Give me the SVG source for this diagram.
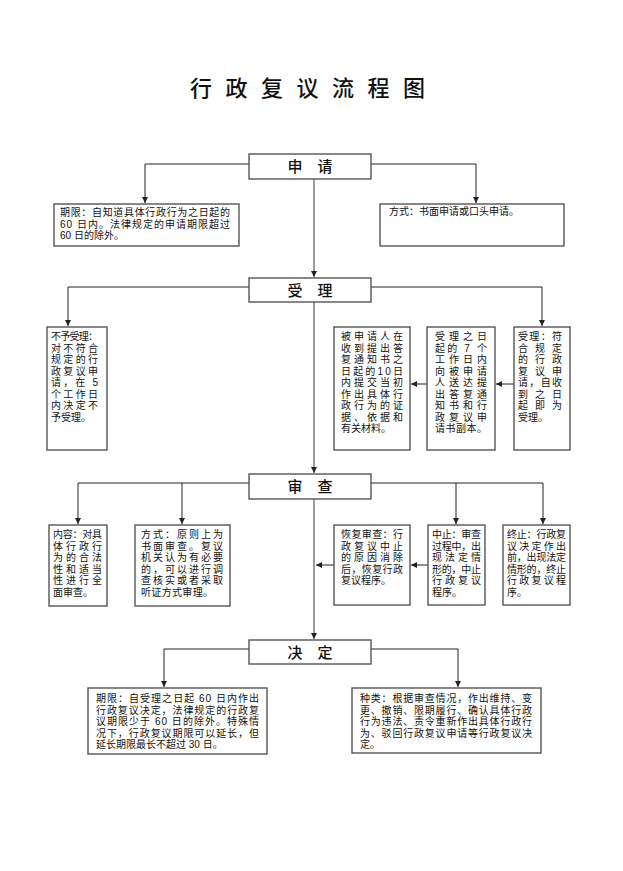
<svg xmlns="http://www.w3.org/2000/svg" width="623" height="871" viewBox="0 0 623 871">
<style>
.bg{fill:#fff}
.box{fill:#fff;stroke:#555;stroke-width:1.4}
.ln{fill:none;stroke:#222;stroke-width:1}
.cl{fill:none;stroke:#666;stroke-width:1.3}
.t{font-family:"Liberation Sans","Noto Sans CJK SC",sans-serif;font-size:10px;fill:#111}
.h{font-family:"Noto Sans CJK SC","Noto Sans",sans-serif;font-size:15px;fill:#111;text-anchor:middle;font-weight:500}
.title{font-family:"Noto Sans CJK SC","Noto Sans",sans-serif;font-size:22px;fill:#111;font-weight:500}
</style>
<defs>
<marker id="ar" markerWidth="6" markerHeight="6" refX="6" refY="3" orient="auto" markerUnits="userSpaceOnUse">
<path d="M0,0 L6,3 L0,6 z" fill="#222"/>
</marker>
</defs>
<rect class="bg" x="0" y="0" width="623" height="871"/>
<text class="title" x="190" y="96" textLength="235" lengthAdjust="spacing">行政复议流程图</text>

<g id="connectors">
<path class="ln" d="M249,164 H145 V203" marker-end="url(#ar)"/>
<path class="ln" d="M371,164 H476 V203" marker-end="url(#ar)"/>
<path class="cl" d="M314,179 V277" marker-end="url(#ar)"/>
<path class="ln" d="M249,287 H68 V326" marker-end="url(#ar)"/>
<path class="ln" d="M371,287 H542 V326" marker-end="url(#ar)"/>
<path class="ln" d="M514,384 H496" marker-end="url(#ar)"/>
<path class="ln" d="M427,384 H411" marker-end="url(#ar)"/>
<path class="cl" d="M314,302 V473" marker-end="url(#ar)"/>
<path class="ln" d="M249,483 H78 V524" marker-end="url(#ar)"/>
<path class="ln" d="M182,483 V524" marker-end="url(#ar)"/>
<path class="ln" d="M371,483 H543 V524" marker-end="url(#ar)"/>
<path class="ln" d="M456,483 V524" marker-end="url(#ar)"/>
<path class="ln" d="M428,565 H411" marker-end="url(#ar)"/>
<path class="ln" d="M334,565 H316" marker-end="url(#ar)"/>
<path class="cl" d="M314,499 V639" marker-end="url(#ar)"/>
<path class="ln" d="M249,649 H164 V687" marker-end="url(#ar)"/>
<path class="ln" d="M371,649 H458 V687" marker-end="url(#ar)"/>
</g>

<g id="n-shenqing">
<rect class="box" x="249" y="154" width="122" height="25"/>
<text class="h" x="310" y="172">申　请</text>
</g>
<g id="n-sq-qixian">
<rect class="box" x="54" y="204" width="185" height="42"/>
<text class="t" x="60" y="216" textLength="170" lengthAdjust="spacing">期限：自知道具体行政行为之日起的</text>
<text class="t" x="60" y="227.5" textLength="170" lengthAdjust="spacing">60 日内。法律规定的申请期限超过</text>
<text class="t" x="60" y="239">60 日的除外。</text>
</g>
<g id="n-sq-fangshi">
<rect class="box" x="380" y="204" width="184" height="42"/>
<text class="t" x="389" y="215">方式：书面申请或口头申请。</text>
</g>

<g id="n-shouli">
<rect class="box" x="249" y="278" width="122" height="24"/>
<text class="h" x="310" y="296">受　理</text>
</g>
<g id="n-buyu">
<rect class="box" x="47" y="327" width="60" height="123"/>
<text class="t" x="51" y="340" textLength="47" lengthAdjust="spacing">不予受理：</text>
<text class="t" x="51" y="351.5" textLength="47" lengthAdjust="spacing">对不符合</text>
<text class="t" x="51" y="363" textLength="47" lengthAdjust="spacing">规定的行</text>
<text class="t" x="51" y="374.5" textLength="47" lengthAdjust="spacing">政复议申</text>
<text class="t" x="51" y="386" textLength="47" lengthAdjust="spacing">请，在 5</text>
<text class="t" x="51" y="397.5" textLength="47" lengthAdjust="spacing">个工作日</text>
<text class="t" x="51" y="409" textLength="47" lengthAdjust="spacing">内决定不</text>
<text class="t" x="51" y="420.5">予受理。</text>
</g>
<g id="n-beishen">
<rect class="box" x="334" y="327" width="76" height="123"/>
<text class="t" x="341" y="340" textLength="62" lengthAdjust="spacing">被申请人在</text>
<text class="t" x="341" y="351.5" textLength="62" lengthAdjust="spacing">收到提出答</text>
<text class="t" x="341" y="363" textLength="62" lengthAdjust="spacing">复通知书之</text>
<text class="t" x="341" y="374.5" textLength="62" lengthAdjust="spacing">日起的10日</text>
<text class="t" x="341" y="386" textLength="62" lengthAdjust="spacing">内提交当初</text>
<text class="t" x="341" y="397.5" textLength="62" lengthAdjust="spacing">作出具体行</text>
<text class="t" x="341" y="409" textLength="62" lengthAdjust="spacing">政行为的证</text>
<text class="t" x="341" y="420.5" textLength="62" lengthAdjust="spacing">据、依据和</text>
<text class="t" x="341" y="432" textLength="50" lengthAdjust="spacing">有关材料。</text>
</g>
<g id="n-songda">
<rect class="box" x="427" y="327" width="68" height="123"/>
<text class="t" x="435" y="340" textLength="52" lengthAdjust="spacing">受理之日</text>
<text class="t" x="435" y="351.5" textLength="52" lengthAdjust="spacing">起的 7 个</text>
<text class="t" x="435" y="363" textLength="52" lengthAdjust="spacing">工作日内</text>
<text class="t" x="435" y="374.5" textLength="52" lengthAdjust="spacing">向被申请</text>
<text class="t" x="435" y="386" textLength="52" lengthAdjust="spacing">人送达提</text>
<text class="t" x="435" y="397.5" textLength="52" lengthAdjust="spacing">出答复通</text>
<text class="t" x="435" y="409" textLength="52" lengthAdjust="spacing">知书和行</text>
<text class="t" x="435" y="420.5" textLength="52" lengthAdjust="spacing">政复议申</text>
<text class="t" x="435" y="432" textLength="52" lengthAdjust="spacing">请书副本。</text>
</g>
<g id="n-shouli2">
<rect class="box" x="514" y="327" width="56" height="123"/>
<text class="t" x="518" y="340" textLength="44" lengthAdjust="spacing">受理：符</text>
<text class="t" x="518" y="351.5" textLength="44" lengthAdjust="spacing">合规定</text>
<text class="t" x="518" y="363" textLength="44" lengthAdjust="spacing">的行政</text>
<text class="t" x="518" y="374.5" textLength="44" lengthAdjust="spacing">复议申</text>
<text class="t" x="518" y="386" textLength="44" lengthAdjust="spacing">请，自收</text>
<text class="t" x="518" y="397.5" textLength="44" lengthAdjust="spacing">到之日</text>
<text class="t" x="518" y="409" textLength="44" lengthAdjust="spacing">起即为</text>
<text class="t" x="518" y="420.5">受理。</text>
</g>

<g id="n-shencha">
<rect class="box" x="249" y="474" width="122" height="25"/>
<text class="h" x="310" y="492">审　查</text>
</g>
<g id="n-neirong">
<rect class="box" x="49" y="525" width="58" height="81"/>
<text class="t" x="53" y="538" textLength="49" lengthAdjust="spacing">内容：对具</text>
<text class="t" x="53" y="549.5" textLength="49" lengthAdjust="spacing">体行政行</text>
<text class="t" x="53" y="561" textLength="49" lengthAdjust="spacing">为的合法</text>
<text class="t" x="53" y="572.5" textLength="49" lengthAdjust="spacing">性和适当</text>
<text class="t" x="53" y="584" textLength="49" lengthAdjust="spacing">性进行全</text>
<text class="t" x="53" y="595.5">面审查。</text>
</g>
<g id="n-fangshi2">
<rect class="box" x="135" y="525" width="95" height="81"/>
<text class="t" x="141" y="538" textLength="82" lengthAdjust="spacing">方式：原则上为</text>
<text class="t" x="141" y="549.5" textLength="82" lengthAdjust="spacing">书面审查。复议</text>
<text class="t" x="141" y="561" textLength="82" lengthAdjust="spacing">机关认为有必要</text>
<text class="t" x="141" y="572.5" textLength="82" lengthAdjust="spacing">的，可以进行调</text>
<text class="t" x="141" y="584" textLength="82" lengthAdjust="spacing">查核实或者采取</text>
<text class="t" x="141" y="595.5" textLength="72" lengthAdjust="spacing">听证方式审理。</text>
</g>
<g id="n-huifu">
<rect class="box" x="334" y="525" width="76" height="80"/>
<text class="t" x="341" y="538" textLength="62" lengthAdjust="spacing">恢复审查：行</text>
<text class="t" x="341" y="549.5" textLength="62" lengthAdjust="spacing">政复议中止</text>
<text class="t" x="341" y="561" textLength="62" lengthAdjust="spacing">的原因消除</text>
<text class="t" x="341" y="572.5" textLength="62" lengthAdjust="spacing">后，恢复行政</text>
<text class="t" x="341" y="584">复议程序。</text>
</g>
<g id="n-zhongzhi">
<rect class="box" x="428" y="525" width="57" height="80"/>
<text class="t" x="432" y="538" textLength="49" lengthAdjust="spacing">中止：审查</text>
<text class="t" x="432" y="549.5" textLength="49" lengthAdjust="spacing">过程中，出</text>
<text class="t" x="432" y="561" textLength="49" lengthAdjust="spacing">现法定情</text>
<text class="t" x="432" y="572.5" textLength="49" lengthAdjust="spacing">形的，中止</text>
<text class="t" x="432" y="584" textLength="49" lengthAdjust="spacing">行政复议</text>
<text class="t" x="432" y="595.5">程序。</text>
</g>
<g id="n-zhongzhi2">
<rect class="box" x="503" y="525" width="67" height="80"/>
<text class="t" x="507" y="538" textLength="59" lengthAdjust="spacing">终止：行政复</text>
<text class="t" x="507" y="549.5" textLength="59" lengthAdjust="spacing">议决定作出</text>
<text class="t" x="507" y="561" textLength="59" lengthAdjust="spacing">前，出现法定</text>
<text class="t" x="507" y="572.5" textLength="59" lengthAdjust="spacing">情形的，终止</text>
<text class="t" x="507" y="584" textLength="59" lengthAdjust="spacing">行政复议程</text>
<text class="t" x="507" y="595.5">序。</text>
</g>

<g id="n-jueding">
<rect class="box" x="249" y="640" width="122" height="24"/>
<text class="h" x="310" y="658">决　定</text>
</g>
<g id="n-jd-qixian">
<rect class="box" x="88" y="688" width="179" height="66"/>
<text class="t" x="96" y="702" textLength="163" lengthAdjust="spacing">期限：自受理之日起 60 日内作出</text>
<text class="t" x="96" y="713.5" textLength="163" lengthAdjust="spacing">行政复议决定，法律规定的行政复</text>
<text class="t" x="96" y="725" textLength="163" lengthAdjust="spacing">议期限少于 60 日的除外。特殊情</text>
<text class="t" x="96" y="736.5" textLength="163" lengthAdjust="spacing">况下，行政复议期限可以延长，但</text>
<text class="t" x="96" y="748">延长期限最长不超过 30 日。</text>
</g>
<g id="n-jd-zhonglei">
<rect class="box" x="352" y="688" width="189" height="65"/>
<text class="t" x="360" y="702" textLength="172" lengthAdjust="spacing">种类：根据审查情况，作出维持、变</text>
<text class="t" x="360" y="713.5" textLength="172" lengthAdjust="spacing">更、撤销、限期履行、确认具体行政</text>
<text class="t" x="360" y="725" textLength="172" lengthAdjust="spacing">行为违法、责令重新作出具体行政行</text>
<text class="t" x="360" y="736.5" textLength="172" lengthAdjust="spacing">为、驳回行政复议申请等行政复议决</text>
<text class="t" x="360" y="748">定。</text>
</g>
</svg>
